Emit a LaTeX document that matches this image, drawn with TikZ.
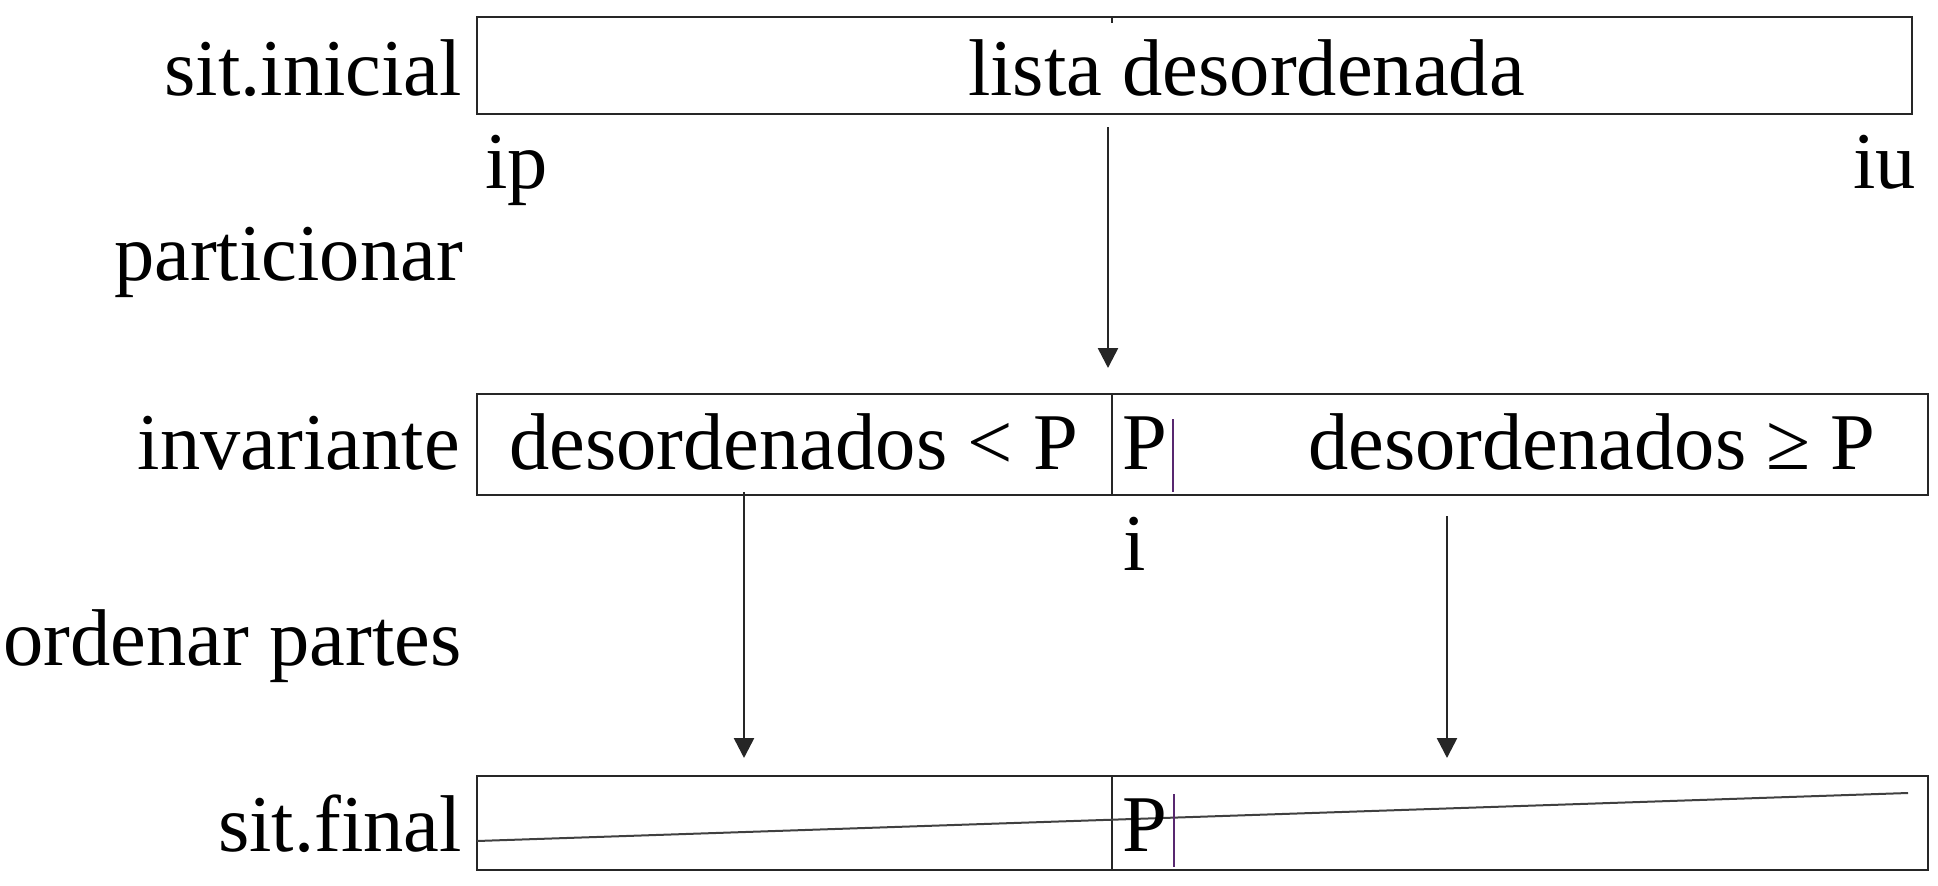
\documentclass[tikz,border=0pt]{standalone}
\usepackage{fontspec}
\setmainfont{Liberation Serif}
\usetikzlibrary{arrows.meta}
\definecolor{cursor}{RGB}{88,40,112}
\begin{document}
\begin{tikzpicture}[x=1pt,y=-1pt,
  box/.style={draw=black!85,line width=2.6pt},
  divider/.style={draw=black!85,line width=2.2pt},
  txt/.style={inner sep=0pt,font=\fontsize{80.5}{96}\selectfont},
  lbl/.style={txt,anchor=base east},
  itxt/.style={txt,anchor=base west},
  flow/.style={draw=black!85,line width=2.6pt,-{Triangle[width=20pt,length=20pt]}},
  bar/.style={draw=cursor,line width=2pt},
  slash/.style={draw=black!75,line width=2pt}]
\useasboundingbox (0,0) rectangle (1938,886);
% boxes
\draw[box] (477,17) coordinate (tl) rectangle (1912,114) coordinate (tr);
\draw[divider] (1112,17) coordinate (tk1) -- (1112,23) coordinate (tk2);
\draw[box] (477,394) coordinate (ml) rectangle (1928,495) coordinate (mr);
\draw[divider] (1112,394) coordinate (md1) -- (1112,495) coordinate (md2);
\draw[box] (477,776) coordinate (bl) rectangle (1928,870) coordinate (br);
\draw[divider] (1112,776) coordinate (bd1) -- (1112,870) coordinate (bd2);
% diagonal
\coordinate (d1) at (477,841);
\coordinate (d2) at (1908,793);
\draw[slash] (d1) -- (d2);
% left labels
\node[lbl] (sini) at (462,95) {sit.inicial};
\node[lbl] (part) at (463,280) {particionar};
\node[lbl] (inv) at (460,469) {invariante};
\node[lbl] (ord) at (462,665) {ordenar partes};
\node[lbl] (sfin) at (462,851) {sit.final};
% box texts
\node[itxt] (lista) at (968,95) {lista desordenada};
\node[itxt] (ip) at (485,188) {ip};
\node[itxt] (iu) at (1853,188) {iu};
\node[itxt] (dmen) at (509,469) {desordenados < P};
\node[itxt] (pm) at (1122,469) {P};
\node[itxt] (dmay) at (1308,469) {desordenados ≥ P};
\node[itxt] (ii) at (1123,570) {i};
\node[itxt] (pb) at (1122,851) {P};
% cursor bars
\coordinate (c1a) at (1173,419); \coordinate (c1b) at (1173,492);
\coordinate (c2a) at (1174,794); \coordinate (c2b) at (1174,867);
\draw[bar] (c1a) -- (c1b);
\draw[bar] (c2a) -- (c2b);
% arrows
\coordinate (a1s) at (1108,127); \coordinate (a1e) at (1108,368);
\coordinate (a2s) at (744,492); \coordinate (a2e) at (744,758);
\coordinate (a3s) at (1447,516); \coordinate (a3e) at (1447,758);
\draw[flow] (a1s) -- (a1e);
\draw[flow] (a2s) -- (a2e);
\draw[flow] (a3s) -- (a3e);
\end{tikzpicture}
\end{document}
